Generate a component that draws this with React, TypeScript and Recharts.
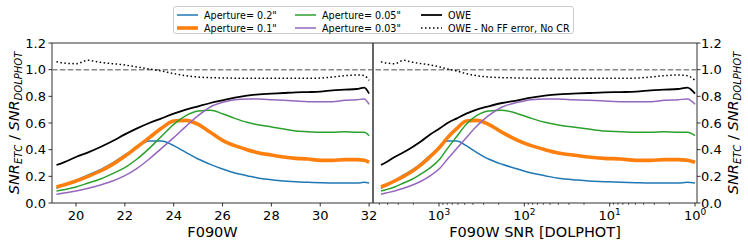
import React from 'react';
import { LineChart, Line, XAxis, YAxis, ReferenceLine, ReferenceArea, Label } from 'recharts';

const FONT = 'DejaVu Sans, sans-serif';

// F090W magnitude of each sample
const mags = [19.2, 19.5, 20, 20.5, 21, 21.5, 22, 22.5, 23, 23.5, 24, 24.5, 25, 25.5, 26, 26.5, 27, 27.5, 28, 28.5, 29, 29.5, 30, 30.5, 31, 31.5, 31.8, 32];
// DOLPHOT SNR of each sample
const snrDolphot = [4786, 4169, 3311, 2600, 2042, 1603, 1259, 977, 794, 617, 479, 363, 263, 182, 120, 83, 57.5, 40, 27, 17.8, 11.5, 7.4, 4.9, 3.3, 2.3, 1.58, 1.23, 1.0];

const ap020 = [0.11, 0.135, 0.17, 0.21, 0.25, 0.3, 0.36, 0.42, 0.465, 0.465, 0.43, 0.38, 0.33, 0.29, 0.255, 0.225, 0.205, 0.185, 0.175, 0.165, 0.16, 0.155, 0.152, 0.15, 0.15, 0.15, 0.155, 0.15];
const ap010 = [0.12, 0.135, 0.165, 0.2, 0.24, 0.29, 0.35, 0.42, 0.49, 0.56, 0.615, 0.62, 0.59, 0.53, 0.47, 0.43, 0.4, 0.375, 0.36, 0.345, 0.335, 0.33, 0.32, 0.32, 0.325, 0.325, 0.32, 0.305];
const ap005 = [0.09, 0.1, 0.12, 0.15, 0.18, 0.22, 0.265, 0.33, 0.41, 0.5, 0.59, 0.655, 0.69, 0.695, 0.67, 0.635, 0.605, 0.585, 0.57, 0.555, 0.54, 0.535, 0.53, 0.53, 0.535, 0.53, 0.53, 0.505];
const ap003 = [0.065, 0.075, 0.09, 0.11, 0.135, 0.165, 0.205, 0.26, 0.33, 0.41, 0.49, 0.575, 0.655, 0.72, 0.755, 0.775, 0.78, 0.78, 0.775, 0.77, 0.765, 0.76, 0.76, 0.76, 0.77, 0.775, 0.78, 0.74];
const owe = [0.285, 0.305, 0.345, 0.38, 0.42, 0.465, 0.515, 0.56, 0.6, 0.635, 0.67, 0.7, 0.725, 0.75, 0.77, 0.79, 0.805, 0.815, 0.82, 0.825, 0.83, 0.832, 0.835, 0.845, 0.85, 0.855, 0.865, 0.82];
const oweNoFF = [1.06, 1.05, 1.045, 1.07, 1.055, 1.045, 1.035, 1.02, 1.005, 0.99, 0.97, 0.955, 0.945, 0.94, 0.938, 0.936, 0.935, 0.935, 0.935, 0.935, 0.935, 0.935, 0.937, 0.945, 0.955, 0.96, 0.955, 0.92];

const magTicks = [20, 22, 24, 26, 28, 30, 32];
const yTicks = [0, 0.2, 0.4, 0.6, 0.8, 1.0, 1.2];
const snrMajorTicks = [1000, 100, 10, 1];
const snrMinorTicks = [5000, 4000, 3000, 2000, 900, 800, 700, 600, 500, 400, 300, 200, 90, 80, 70, 60, 50, 40, 30, 20, 9, 8, 7, 6, 5, 4, 3, 2];
const snrTickExp: Record<number, string> = { 1000: '3', 100: '2', 10: '1', 1: '0' };

const magDomain = [19.017, 32.16];
const snrDomain = [0.948, 5934];
const yDomain = [0, 1.2];

const series = [
  { key: 'ap020', name: 'Aperture= 0.2"', color: '#1f77b4', width: 1.5, dash: undefined as string | undefined },
  { key: 'ap010', name: 'Aperture= 0.1"', color: '#ff7f0e', width: 3.6, dash: undefined },
  { key: 'ap005', name: 'Aperture= 0.05"', color: '#2ca02c', width: 1.5, dash: undefined },
  { key: 'ap003', name: 'Aperture= 0.03"', color: '#9467bd', width: 1.5, dash: undefined },
  { key: 'owe', name: 'OWE', color: '#000000', width: 1.8, dash: undefined },
  { key: 'oweNoFF', name: 'OWE - No FF error, No CR', color: '#000000', width: 1.5, dash: '1.5 2.5' },
];

const rows = mags.map((m, i) => ({
  mag: m,
  snr: snrDolphot[i],
  ap020: ap020[i],
  ap010: ap010[i],
  ap005: ap005[i],
  ap003: ap003[i],
  owe: owe[i],
  oweNoFF: oweNoFF[i],
}));

const MagTick = (p: any) => {
  const { x, y, payload } = p;
  return (
    <g>
      <line x1={x} x2={x} y1={y} y2={y + 3.5} stroke="#000" strokeWidth={0.8} />
      <text x={x} y={y + 17} textAnchor="middle" fontSize={13} fontFamily={FONT} fill="#000">{payload.value}</text>
    </g>
  );
};

const SnrTick = (p: any) => {
  const { x, y, payload } = p;
  const exp = snrTickExp[payload.value];
  if (exp === undefined) {
    return <line x1={x} x2={x} y1={y} y2={y + 2} stroke="#000" strokeWidth={0.6} />;
  }
  return (
    <g>
      <line x1={x} x2={x} y1={y} y2={y + 3.5} stroke="#000" strokeWidth={0.8} />
      <text x={x} y={y + 17} textAnchor="middle" fontSize={13} fontFamily={FONT} fill="#000">
        10<tspan fontSize={9} dy={-5}>{exp}</tspan>
      </text>
    </g>
  );
};

const YTickLeft = (p: any) => {
  const { x, y, payload } = p;
  return (
    <g>
      <line x1={x - 3.5} x2={x} y1={y} y2={y} stroke="#000" strokeWidth={0.8} />
      <text x={x - 6} y={y + 4.7} textAnchor="end" fontSize={13} fontFamily={FONT} fill="#000">{Number(payload.value).toFixed(1)}</text>
    </g>
  );
};

const YTickRight = (p: any) => {
  const { x, y, payload } = p;
  return (
    <g>
      <line x1={x} x2={x + 3.5} y1={y} y2={y} stroke="#000" strokeWidth={0.8} />
      <text x={x + 4} y={y + 4.7} textAnchor="start" fontSize={13} fontFamily={FONT} fill="#000">{Number(payload.value).toFixed(1)}</text>
    </g>
  );
};

const yLabelText = (cx: number, cy: number) => (
  <text transform={`translate(${cx},${cy}) rotate(-90)`} textAnchor="middle" fontFamily={FONT} fontSize={14.5} fill="#000" style={{ whiteSpace: 'pre' }}>
    <tspan fontStyle="italic">SNR</tspan>
    <tspan fontStyle="italic" fontSize={10} dy={3}>ETC</tspan>
    <tspan dy={-3}>{' / '}</tspan>
    <tspan fontStyle="italic">SNR</tspan>
    <tspan fontStyle="italic" fontSize={10} dy={3}>DOLPHOT</tspan>
  </text>
);

const xLabelText = (vb: any, text: string) => (
  <text x={vb.x + vb.width / 2} y={vb.y + 34} textAnchor="middle" fontFamily={FONT} fontSize={14.5} fill="#000">{text}</text>
);

const renderLines = () =>
  series.map((s) => (
    <Line
      key={s.key}
      dataKey={s.key}
      type="monotone"
      stroke={s.color}
      strokeWidth={s.width}
      strokeDasharray={s.dash}
      dot={false}
      activeDot={false}
      isAnimationActive={false}
    />
  ));

const Legend = () => {
  const colX = [177, 295, 421];
  const rowY = [15, 28];
  return (
    <svg width={748} height={40} style={{ position: 'absolute', left: 0, top: 0 }}>
      <rect x={173.5} y={6.5} width={400} height={27} rx={2.5} fill="#fff" fillOpacity={0.8} stroke="#cccccc" strokeWidth={1} />
      {series.map((s, i) => {
        const cx = colX[Math.floor(i / 2)];
        const cy = rowY[i % 2];
        return (
          <g key={s.key}>
            <line x1={cx} x2={cx + 21} y1={cy} y2={cy} stroke={s.color} strokeWidth={s.width} strokeDasharray={s.dash} />
            <text x={cx + 27} y={cy + 3.5} fontSize={9.6} fontFamily={FONT} fill="#000">{s.name}</text>
          </g>
        );
      })}
    </svg>
  );
};

export default function App() {
  return (
    <div style={{ position: 'absolute', left: 0, top: 0, width: 748, height: 247, background: '#fff', overflow: 'hidden' }}>
      <div style={{ position: 'absolute', left: 0, top: 0 }}>
        <LineChart width={383} height={247} data={rows} margin={{ top: 43, right: 10, bottom: 0, left: 0 }}>
          <XAxis dataKey="mag" type="number" domain={magDomain} allowDataOverflow ticks={magTicks} interval={0}
            height={44} tickSize={0} tickMargin={0} tickLine={false} axisLine={false} tick={MagTick}>
            <Label content={(p: any) => xLabelText(p.viewBox, 'F090W')} />
          </XAxis>
          <YAxis type="number" domain={yDomain} allowDataOverflow ticks={yTicks} interval={0}
            width={52} tickSize={0} tickMargin={0} tickLine={false} axisLine={false} tick={YTickLeft}>
            <Label content={(p: any) => yLabelText(p.viewBox.x + 19, p.viewBox.y + p.viewBox.height / 2)} />
          </YAxis>
          <ReferenceLine y={1} stroke="#888" strokeWidth={1.5} strokeDasharray="5.5 2.4" ifOverflow="visible" />
          {renderLines()}
          <ReferenceArea x1={magDomain[0]} x2={magDomain[1]} y1={yDomain[0]} y2={yDomain[1]} fill="none" fillOpacity={0} stroke="#333" strokeWidth={1} ifOverflow="visible" />
        </LineChart>
      </div>
      <div style={{ position: 'absolute', left: 363, top: 0 }}>
        <LineChart width={385} height={247} data={rows} margin={{ top: 43, right: 0, bottom: 0, left: 10 }}>
          <XAxis dataKey="snr" type="number" scale="log" domain={snrDomain} allowDataOverflow reversed
            ticks={[...snrMajorTicks, ...snrMinorTicks]} interval={0}
            height={44} tickSize={0} tickMargin={0} tickLine={false} axisLine={false} tick={SnrTick}>
            <Label content={(p: any) => xLabelText(p.viewBox, 'F090W SNR [DOLPHOT]')} />
          </XAxis>
          <YAxis orientation="right" type="number" domain={yDomain} allowDataOverflow ticks={yTicks} interval={0}
            width={51} tickSize={0} tickMargin={0} tickLine={false} axisLine={false} tick={YTickRight}>
            <Label content={(p: any) => yLabelText(p.viewBox.x + 41.3, p.viewBox.y + p.viewBox.height / 2)} />
          </YAxis>
          <ReferenceLine y={1} stroke="#888" strokeWidth={1.5} strokeDasharray="5.5 2.4" ifOverflow="visible" />
          {renderLines()}
          <ReferenceArea x1={snrDomain[0]} x2={snrDomain[1]} y1={yDomain[0]} y2={yDomain[1]} fill="none" fillOpacity={0} stroke="#333" strokeWidth={1} ifOverflow="visible" />
        </LineChart>
      </div>
      <Legend />
    </div>
  );
}
